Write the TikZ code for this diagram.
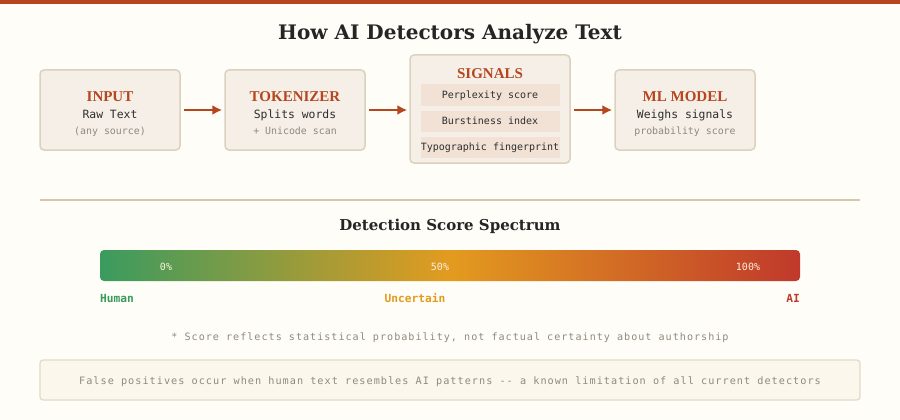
\documentclass[tikz,border=0pt]{standalone}
\usepackage{fontspec}
\newfontfamily\titlefont{DejaVu Serif}
\newfontfamily\headfont{Liberation Serif}
\newfontfamily\codefont{DejaVu Sans Mono}
\newfontfamily\notefont[LetterSpace=10]{DejaVu Sans Mono}
\usetikzlibrary{arrows.meta}
\definecolor{paper}{HTML}{FFFDF7}
\definecolor{rust}{HTML}{B5461E}
\definecolor{boxfill}{HTML}{F5EFE7}
\definecolor{boxline}{HTML}{DAD2BF}
\definecolor{rowfill}{HTML}{F2E2D6}
\definecolor{ink}{HTML}{2E2E2E}
\definecolor{muted}{HTML}{8E8A7E}
\definecolor{rulecol}{HTML}{D5C7AE}
\definecolor{human}{HTML}{3A9B5F}
\definecolor{unsure}{HTML}{E39B1F}
\definecolor{machine}{HTML}{C0392B}
\definecolor{notefill}{HTML}{FBF7EC}
\definecolor{noteline}{HTML}{E3DAC6}
\tikzset{
  >={Latex[length=10pt,width=10pt]},
}
\tikzstyle{stage}=[draw=boxline,line width=1.5pt,fill=boxfill,rounded corners=4pt,inner sep=0pt]
\tikzstyle{row}=[fill=rowfill,minimum width=139pt,minimum height=21pt,inner sep=0pt]
\tikzstyle{head}=[anchor=base,text=rust,font=\headfont\bfseries\fontsize{15}{18}\selectfont]
\tikzstyle{line1}=[anchor=base,text=ink,font=\codefont\fontsize{11.4}{13}\selectfont]
\tikzstyle{line2}=[anchor=base,text=muted,font=\codefont\fontsize{9.9}{12}\selectfont]
\tikzstyle{rowtext}=[anchor=base,text=ink,font=\codefont\fontsize{10}{12}\selectfont]
\tikzstyle{flow}=[->,rust,line width=2pt,shorten <=3pt,shorten >=2pt]
\tikzstyle{pct}=[anchor=base,text=white!88!orange,font=\codefont\fontsize{10}{12}\selectfont]
\tikzstyle{scale label}=[anchor=base,font=\codefont\bfseries\fontsize{11.2}{13}\selectfont]
\tikzstyle{every node}=[inner sep=0pt]

\begin{document}
\begin{tikzpicture}[x=1pt,y=-1pt]
    \useasboundingbox (0,0) rectangle (900,420);
    \fill[paper] (0,0) rectangle (900,420);
    \fill[rust] (0,0) rectangle (900,4);
    \node[anchor=base,text=ink!80!black,font=\titlefont\bfseries\fontsize{20}{24}\selectfont] (title) at (450,39.5) {How AI Detectors Analyze Text};

    \node[stage,minimum width=140pt,minimum height=80pt] (input) at (110,110) {};
    \node[stage,minimum width=140pt,minimum height=80pt] (tokenizer) at (295,110) {};
    \node[stage,minimum width=160pt,minimum height=108pt] (signals) at (490,109) {};
    \node[stage,minimum width=140pt,minimum height=80pt] (model) at (685,110) {};

    \node[head] (inputhead) at (110,101) {INPUT};
    \node[line1] (inputtext) at (110,118.5) {Raw Text};
    \node[line2] (inputnote) at (110,134) {(any source)};

    \node[head] (tokhead) at (295,101) {TOKENIZER};
    \node[line1] (toktext) at (295,118.5) {Splits words};
    \node[line2] (toknote) at (295,134) {+ Unicode scan};

    \node[head] (sighead) at (490,78) {SIGNALS};
    \node[row] (perplexity) at (490,95) {};
    \node[row] (burstiness) at (490,121) {};
    \node[row] (typographic) at (490,147) {};
    \node[rowtext] at (490,98.5) {Perplexity score};
    \node[rowtext] at (490,124.5) {Burstiness index};
    \node[rowtext] at (490,150.5) {Typographic fingerprint};

    \node[head] (modelhead) at (685,101) {ML MODEL};
    \node[line1] (modeltext) at (685,118.5) {Weighs signals};
    \node[line2] (modelnote) at (685,134) {probability score};

    \draw[flow] (input.east) -- (input.east -| tokenizer.west);
    \draw[flow] (tokenizer.east) -- (tokenizer.east -| signals.west);
    \draw[flow] (signals.east |- model.west) -- (model.west);

    \coordinate (ruleleft) at (40,200);
    \coordinate (ruleright) at (860,200);
    \draw[rulecol,line width=1.5pt] (ruleleft) -- (ruleright);

    \node[anchor=base,text=ink!80!black,font=\titlefont\bfseries\fontsize{15}{18}\selectfont] (spectrumhead) at (450,230) {Detection Score Spectrum};

    \node[rounded corners=4pt,minimum width=700pt,minimum height=31pt,left color=human,right color=machine,middle color=unsure] (bar) at (450,265.5) {};
    \node[pct] at (166,270.5) {0\%};
    \node[pct] at (440,270.5) {50\%};
    \node[pct] at (748,270.5) {100\%};

    \node[scale label,text=human,anchor=base west] (humanlabel) at (100,302) {Human};
    \node[scale label,text=unsure] (unsurelabel) at (415,302) {Uncertain};
    \node[scale label,text=machine,anchor=base east] (ailabel) at (800,302) {AI};

    \node[anchor=base,text=muted,font=\notefont\fontsize{10.1}{12}\selectfont] (footnote) at (450,340) {* Score reflects statistical probability, not factual certainty about authorship};

    \node[draw=noteline,line width=1.2pt,fill=notefill,rounded corners=3pt,minimum width=820pt,minimum height=40pt] (caveat) at (450,380) {};
    \node[anchor=base,text=muted,font=\notefont\fontsize{10.2}{12}\selectfont] at (450,384.5) {False positives occur when human text resembles AI patterns -{}- a known limitation of all current detectors};
\end{tikzpicture}
\end{document}
